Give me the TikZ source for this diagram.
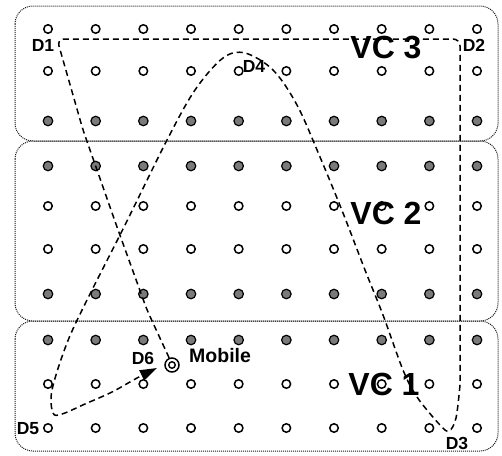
\documentclass[tikz,border=0pt]{standalone}
\usepackage{fontspec}
\setmainfont{Liberation Sans}
\usetikzlibrary{arrows.meta}
\begin{document}
\begin{tikzpicture}[x=1pt,y=-1pt,
  zone/.style={draw=black!90, line width=1pt, dash pattern=on 1pt off 1pt, rounded corners=18pt},
  opendot/.style={circle, draw=black, line width=1.5pt, fill=white, minimum size=8.5pt, inner sep=0pt},
  fulldot/.style={circle, draw=black, line width=1.2pt, fill=black!52, minimum size=9.5pt, inner sep=0pt},
  traj/.style={line width=1.5pt, dash pattern=on 6pt off 4pt},
  dlab/.style={font=\bfseries\fontsize{17.5}{17.5}\selectfont, inner sep=0pt},
  moblab/.style={font=\bfseries\fontsize{19.5}{19.5}\selectfont, inner sep=0pt},
  vclab/.style={font=\bfseries\fontsize{32}{32}\selectfont, inner sep=0pt},
]
\useasboundingbox (0,0) rectangle (502,455);
% zones
\draw[zone] (15,6) rectangle (498,141);
\draw[zone] (15,141) rectangle (498,321);
\draw[zone] (15,321) rectangle (498,451);
% grid of sensors
\foreach \r/\y in {1/29,2/71,5/206,6/249,9/384,10/428}{
  \foreach \c in {0,...,9}{
    \node[opendot] (g\r-\c) at ({48+47.67*\c},\y) {};
  }
}
\foreach \r/\y in {3/121,4/166,7/294,8/340}{
  \foreach \c in {0,...,9}{
    \node[fulldot] (g\r-\c) at ({48+47.67*\c},\y) {};
  }
}
% mobile
\node[circle, draw, line width=1.5pt, minimum size=14pt, inner sep=0pt] (mob) at (172,365) {};
\node[circle, draw, line width=1.4pt, minimum size=6.5pt, inner sep=0pt] (mobin) at (mob) {};
% waypoints
\coordinate (d1c) at (57,39);
\coordinate (d2c) at (460,39);
\coordinate (d3c) at (449,431);
\coordinate (d4c) at (245,53);
\coordinate (d5c) at (53,413);
\coordinate (d6c) at (157,368);
% trajectory
\draw[traj, rounded corners=7pt] (mob.112) -- (147,310) -- (117,227) -- (83,130) -- (d1c) -- (d2c) -- (460,385);
\draw[traj, -{Triangle[length=17pt,width=11pt]}] plot[smooth, tension=0.55] coordinates {
  (460,385) (456,418) (d3c) (440,425) (417,397) (403,370) (383,315) (365,270) (343,213) (320,157) (297,105) (273,70) (d4c) (223,58) (195,90) (167,140) (125,225) (87,300) (67,343) (52,390) (d5c) (62,414) (85,404) (112,392) (137,378) (d6c)};
% labels
\node[dlab] (l1) at (43,45) {D1};
\node[dlab] (l2) at (474,45) {D2};
\node[dlab] (l3) at (457,443) {D3};
\node[dlab] (l4) at (254,66) {D4};
\node[dlab] (l5) at (28,429) {D5};
\node[dlab] (l6) at (143,358) {D6};
\node[moblab, anchor=west] (lm) at (189,356) {Mobile};
\node[vclab] (vc3) at (386,48) {VC 3};
\node[vclab] (vc2) at (386,213) {VC 2};
\node[vclab] (vc1) at (384,384) {VC 1};
\end{tikzpicture}
\end{document}
